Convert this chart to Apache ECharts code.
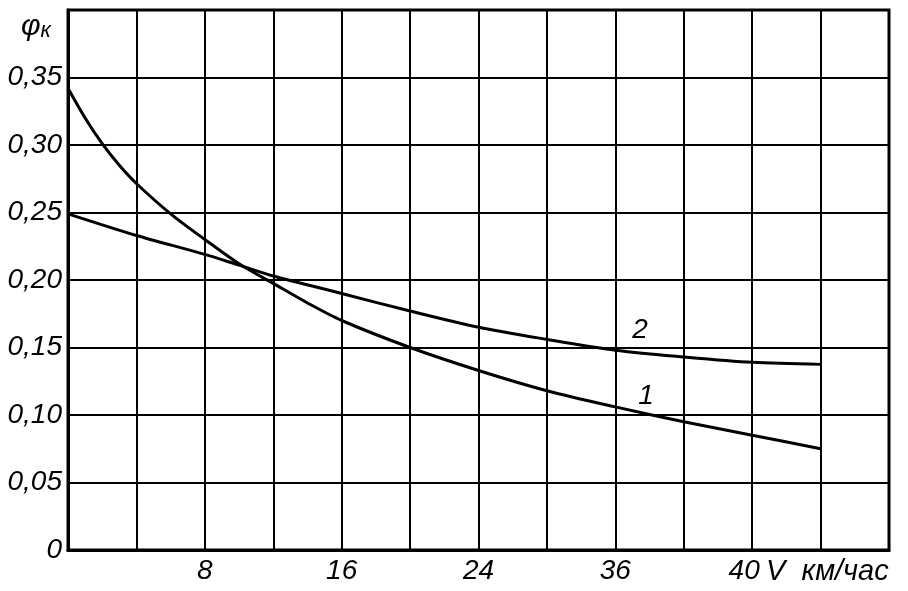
<!DOCTYPE html>
<html>
<head>
<meta charset="utf-8">
<script src="https://cdn.jsdelivr.net/npm/echarts@6/dist/echarts.min.js"></script>
<style>
html,body{margin:0;padding:0;background:#fff;}
#chart{width:908px;height:591px;}
</style>
</head>
<body>
<div id="chart"></div>
<script>
// Speed V, km/h
const speeds1 = [0, 1, 2, 3, 4, 6, 8, 10, 12, 14, 16, 20, 24, 28, 32, 36, 40, 44];
// Curve 1 values (φк)
const curve1 = [0.342, 0.320, 0.301, 0.285, 0.2715, 0.249, 0.230, 0.212, 0.1975, 0.183, 0.170, 0.150, 0.133, 0.118, 0.106, 0.095, 0.085, 0.075];
const speeds2 = [0, 4, 8, 10, 12, 16, 20, 24, 28, 32, 36, 40, 44];
// Curve 2 values (φк)
const curve2 = [0.249, 0.233, 0.219, 0.211, 0.203, 0.190, 0.177, 0.165, 0.156, 0.148, 0.143, 0.139, 0.1375];
// X tick labels (as printed in the original figure)
const xTickValues = [8, 16, 24, 32, 40];
const xTickLabels = ['8', '16', '24', '36', '40'];
// Curve number annotations [V, φк, label]
const curveLabels = [[33.45, 0.1627, '2'], [33.8, 0.1139, '1']];

const FONT = "'Liberation Sans', 'DejaVu Sans', sans-serif";
const chart = echarts.init(document.getElementById('chart'));

function pairs(xs, ys) { return xs.map((x, i) => [x, ys[i]]); }

const lineStyle = {color: '#000', width: 3};
const textBase = {fontFamily: FONT, fontStyle: 'italic', fontSize: 28, color: '#000'};

chart.setOption({
  backgroundColor: '#fff',
  animation: false,
  grid: {left: 68, right: 19, top: 10, bottom: 41, show: true, borderColor: '#000', borderWidth: 3},
  xAxis: {
    type: 'value', min: 0, max: 48, interval: 4,
    axisLine: {show: true, lineStyle: {color: '#000', width: 3}},
    axisTick: {show: false},
    splitLine: {show: true, lineStyle: {color: '#000', width: 2}},
    axisLabel: {
      ...textBase, margin: 7, showMinLabel: true, showMaxLabel: true,
      formatter: v => {
        const i = xTickValues.indexOf(v);
        if (i < 0) return '';
        return v === 40 ? '{s|' + xTickLabels[i] + '}' : xTickLabels[i];
      },
      rich: {s: {...textBase, padding: [0, 16, 0, 0]}}
    }
  },
  yAxis: {
    type: 'value', min: 0, max: 0.4, interval: 0.05,
    axisLine: {show: true, lineStyle: {color: '#000', width: 3}},
    axisTick: {show: false},
    splitLine: {show: true, lineStyle: {color: '#000', width: 2}},
    axisLabel: {
      ...textBase, margin: 6,
      formatter: v => {
        if (Math.abs(v) < 1e-9) return '0';
        if (v > 0.375) return '';
        return v.toFixed(2).replace('.', ',');
      }
    }
  },
  graphic: [
    {type: 'text', left: 21, top: 12, style: {
      text: '{a|φ}{b|к}',
      rich: {
        a: {fontFamily: FONT, fontStyle: 'italic', fontSize: 30, fill: '#000'},
        b: {fontFamily: FONT, fontStyle: 'italic', fontSize: 22, fill: '#000', padding: [8, 0, 0, 0]}
      }
    }},
    {type: 'text', left: 766, top: 557, style: {
      text: 'V  км/час', fontFamily: FONT, fontStyle: 'italic', fontSize: 29, fill: '#000'
    }}
  ],
  series: [
    {
      type: 'line', name: '1', data: pairs(speeds1, curve1), smooth: 0.3,
      showSymbol: false, lineStyle: lineStyle, z: 5,
      markPoint: {
        symbolSize: 0, silent: true,
        label: {show: true, ...textBase, position: 'inside', formatter: p => p.name},
        data: [{name: curveLabels[1][2], coord: [curveLabels[1][0], curveLabels[1][1]]}]
      }
    },
    {
      type: 'line', name: '2', data: pairs(speeds2, curve2), smooth: 0.3,
      showSymbol: false, lineStyle: lineStyle, z: 5,
      markPoint: {
        symbolSize: 0, silent: true,
        label: {show: true, ...textBase, position: 'inside', formatter: p => p.name},
        data: [{name: curveLabels[0][2], coord: [curveLabels[0][0], curveLabels[0][1]]}]
      }
    }
  ]
});
</script>
</body>
</html>
